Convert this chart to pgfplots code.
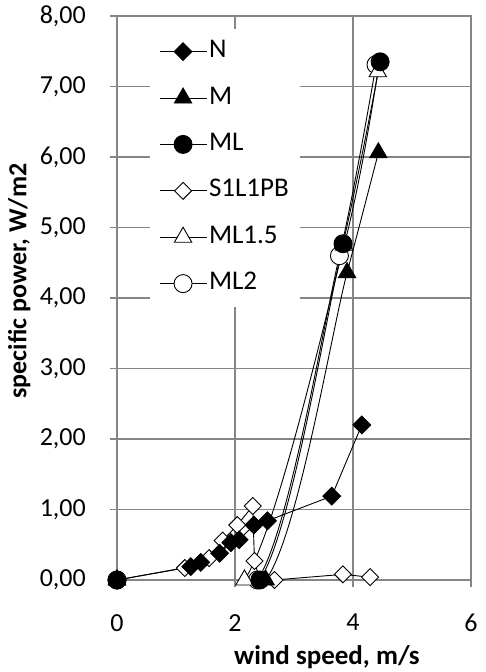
\documentclass[border=0pt]{standalone}
\usepackage{pgfplots}
\pgfplotsset{compat=1.18}
\usepackage{fontspec}
\setmainfont{Carlito}
\definecolor{gridgray}{RGB}{134,134,134}
\begin{document}
\fontsize{27}{32}\selectfont
\begin{tikzpicture}
\useasboundingbox (-117pt,-92pt) rectangle (368pt,580pt);
\begin{axis}[
  at={(0,0)}, anchor=south west,
  scale only axis, width=354pt, height=564pt,
  xmin=0, xmax=6, ymin=0, ymax=8,
  xtick={0,2,4,6}, ytick={0,1,...,8},
  xtick pos=left, ytick pos=left,
  grid=major,
  major grid style={gridgray, line width=1.5pt},
  axis line style={gridgray, line width=1.5pt},
  tick style={gridgray, line width=1.5pt},
  tick align=outside, major tick length=7pt,
  /pgf/number format/assume math mode=true,
  tick label style={font=\fontsize{26}{31}\selectfont, black},
  yticklabel style={/pgf/number format/fixed, /pgf/number format/fixed zerofill, /pgf/number format/precision=2, /pgf/number format/use comma, xshift=-15pt},
  xticklabel style={yshift=-18pt},
  xlabel={wind speed, m/s},
  ylabel={specific power, W/m2},
  xlabel style={font=\fontsize{27}{32}\selectfont\bfseries, at={(axis description cs:0.593,-0.149)}, anchor=base},
  ylabel style={font=\fontsize{26}{31}\selectfont\bfseries, at={(axis description cs:-0.276,0.53)}, anchor=center, inner sep=0pt},
  legend cell align=left,
  legend style={at={(0.093,0.978)}, anchor=north west, draw=none, fill=white,
    inner sep=9pt, row sep=18.4pt, font=\fontsize{27}{32}\selectfont,
    nodes={inner sep=2pt, text height=18pt, text depth=6pt}},
  legend image code/.code={\draw[mark repeat=2,mark phase=2,#1] plot coordinates {(0pt,0pt) (23.5pt,0pt) (47pt,0pt)};},
  every axis plot/.append style={black, line width=0.9pt},
]
% legend images in legend order
\addlegendimage{black, line width=0.9pt, mark=square*, mark size=6.3pt, mark options={rotate=45, fill=black, solid}}
\addlegendentry{N}
\addlegendimage{black, line width=0.9pt, mark=triangle*, mark size=10pt, mark options={fill=black, solid}}
\addlegendentry{M}
\addlegendimage{black, line width=0.9pt, mark=*, mark size=9pt, mark options={fill=black, solid}}
\addlegendentry{ML}
\addlegendimage{black, line width=0.9pt, mark=square*, mark size=6pt, mark options={rotate=45, fill=white, solid}}
\addlegendentry{S1L1PB}
\addlegendimage{black, line width=0.9pt, mark=triangle*, mark size=10pt, mark options={fill=white, solid}}
\addlegendentry{ML1.5}
\addlegendimage{black, line width=0.9pt, mark=*, mark size=9pt, mark options={fill=white, solid}}
\addlegendentry{ML2}
% ML2
\addplot[forget plot, smooth, mark=*, mark size=9pt, mark options={fill=white}] coordinates {(0,0) (2.38,0) (3.77,4.60) (4.39,7.31)};
% ML1.5
\addplot[forget plot, smooth, mark=triangle*, mark size=10pt, mark options={fill=white}] coordinates {(0,0) (2.16,0) (3.85,4.75) (4.42,7.21)};
% S1L1PB
\addplot[forget plot, mark=square*, mark size=6pt, mark options={rotate=45, fill=white}] coordinates {(0,0) (1.15,0.17) (1.56,0.31) (1.79,0.56) (2.04,0.78) (2.30,1.05) (2.33,0.27) (2.42,0) (2.67,0) (3.83,0.08) (4.29,0.04)};
% N
\addplot[forget plot, mark=square*, mark size=6.3pt, mark options={rotate=45, fill=black}] coordinates {(0,0) (1.25,0.19) (1.42,0.25) (1.74,0.38) (1.93,0.53) (2.07,0.57) (2.32,0.78) (2.55,0.84) (3.64,1.19) (4.15,2.20)};
% M
\addplot[forget plot, smooth, mark=triangle*, mark size=10pt, mark options={fill=black}] coordinates {(0,0) (2.52,0) (3.90,4.36) (4.43,6.06)};
% ML
\addplot[forget plot, smooth, mark=*, mark size=9pt, mark options={fill=black}] coordinates {(0,0) (2.42,0) (3.83,4.77) (4.46,7.35)};
\end{axis}
\end{tikzpicture}
\end{document}
